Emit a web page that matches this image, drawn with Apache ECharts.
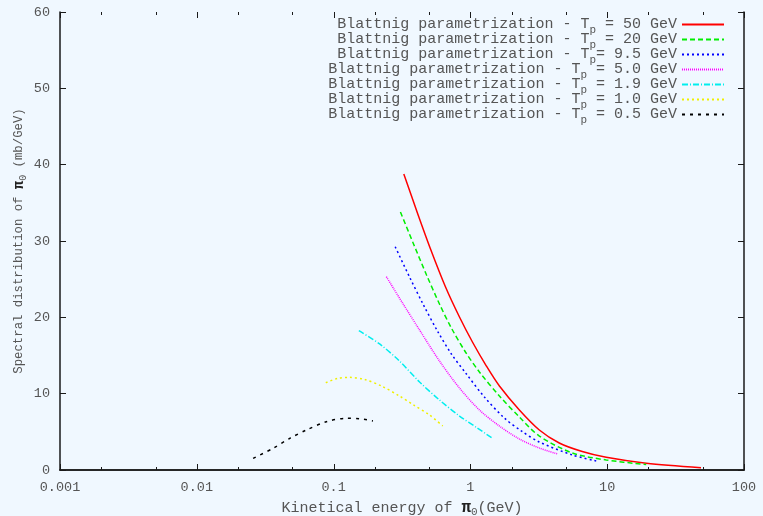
<!DOCTYPE html>
<html><head><meta charset="utf-8">
<script src="https://cdn.jsdelivr.net/npm/echarts@6/dist/echarts.min.js"></script>
<style>html,body{margin:0;padding:0;background:#f0f8ff}#c{width:763px;height:516px}</style>
</head><body><div id="c"></div>
<script>
// ---- data ----
const legendLabels = [
  'Blattnig parametrization - T{sub|p} = 50 GeV',
  'Blattnig parametrization - T{sub|p} = 20 GeV',
  'Blattnig parametrization - T{sub|p}= 9.5 GeV',
  'Blattnig parametrization - T{sub|p} = 5.0 GeV',
  'Blattnig parametrization - T{sub|p} = 1.9 GeV',
  'Blattnig parametrization - T{sub|p} = 1.0 GeV',
  'Blattnig parametrization - T{sub|p} = 0.5 GeV'
];
const energy50 = [0.326,0.410,0.511,0.658,0.832,1.035,1.309,1.63,2.28,3.19,4.46,6.57,9.84,19.3,48.5];
const dist50   = [38.78,33.67,28.95,23.97,20.04,16.77,13.62,11.0,7.86,5.24,3.54,2.42,1.66,0.88,0.30];
const energy20 = [0.308,0.384,0.478,0.594,0.726,0.920,1.164,1.63,2.28,3.19,5.56,9.84,19.3];
const dist20   = [33.80,29.61,25.55,21.75,18.60,15.46,12.84,9.69,6.94,4.45,2.23,1.31,0.72];
const energy95 = [0.282,0.359,0.454,0.574,0.726,0.935,1.265,1.77,2.36,3.19,5.56,8.31];
const dist95   = [29.25,25.28,21.62,18.21,15.20,12.58,9.56,6.81,5.11,3.67,1.97,1.18];
const energy50b = [0.243,0.319,0.425,0.594,0.832,1.164,1.63,2.28,3.19,4.34];
const dist50b   = [25.32,21.88,18.34,14.28,10.74,7.86,5.76,4.06,2.88,2.10];
const energy19 = [0.153,0.217,0.303,0.425,0.594,0.832,1.125,1.44];
const dist19   = [18.25,16.51,14.28,11.53,9.17,7.07,5.50,4.19];
const energy10 = [0.0876,0.107,0.131,0.168,0.224,0.303,0.384,0.502,0.628];
const dist10   = [11.44,11.99,12.14,11.86,11.0,9.69,8.52,7.21,5.76];
const energy05 = [0.0258,0.0361,0.0478,0.0633,0.0885,0.124,0.155,0.194];
const dist05   = [1.53,2.84,4.15,5.24,6.33,6.77,6.72,6.42];
const xTickLabels = [0.001,0.01,0.1,1,10,100];
const xMinorTicks = [0.002,0.005,0.02,0.05,0.2,0.5,2,5,20,50];
const yTickLabels = [0,10,20,30,40,50,60];

const curves = [
  [energy50, dist50], [energy20, dist20], [energy95, dist95], [energy50b, dist50b],
  [energy19, dist19], [energy10, dist10], [energy05, dist05]
];
const colors = ['#ff0000','#00ee00','#0000ff','#ff00ff','#00eeee','#f0f000','#000000'];
const dashes = ['solid',[5,3],[2,3],[1,1],[6,2,1,2],[2,3],[3,5]];

const FONT = 'Liberation Mono';
const AX = '#1a1a1a';
const TXT = '#555';

const lineSeries = curves.map((c, i) => ({
  name: legendLabels[i],
  type: 'line',
  data: c[0].map((x, j) => [x, c[1][j]]),
  showSymbol: false, symbol: 'none',
  smooth: 0.3,
  lineStyle: { color: colors[i], width: 1.5, type: dashes[i] },
  itemStyle: { color: colors[i] },
  z: 3
}));

// all x ticks (major + minor, mirrored on top) drawn through the axis scale
const xTickMarks = xTickLabels.map(v => [v, 6]).concat(xMinorTicks.map(v => [v, 3]));
const tickSeries = {
  type: 'custom', silent: true, clip: false, z: 10,
  xAxisIndex: 0, yAxisIndex: 0,
  encode: { x: 0 },
  data: xTickMarks,
  renderItem(params, api) {
    const x = api.value(0);
    const len = api.value(1);
    const b = api.coord([x, yTickLabels[0]]);
    const t = api.coord([x, yTickLabels[yTickLabels.length - 1]]);
    const px = Math.round(b[0]) + 0.5;
    return { type: 'group', children: [
      { type: 'line', shape: { x1: px, y1: b[1], x2: px, y2: b[1] - len }, style: { stroke: AX, lineWidth: 1 } },
      { type: 'line', shape: { x1: px, y1: t[1], x2: px, y2: t[1] + len }, style: { stroke: AX, lineWidth: 1 } }
    ]};
  }
};

const axisLineStyle = { show: true, lineStyle: { color: AX, width: 1.5 } };

const chart = echarts.init(document.getElementById('c'));
chart.setOption({
  backgroundColor: '#f0f8ff',
  animation: false,
  grid: { left: 60, right: 19, top: 12, bottom: 46, containLabel: false, outerBoundsMode: 'none' },
  legend: {
    data: legendLabels,
    orient: 'vertical', align: 'right',
    right: 33, top: 8,
    itemWidth: 42, itemHeight: 14, itemGap: -8,
    formatter: n => n,
    itemStyle: { opacity: 0 },
    textStyle: {
      fontFamily: FONT, fontSize: 15, color: TXT, lineHeight: 10,
      rich: { sub: { fontFamily: FONT, fontSize: 11, color: TXT, lineHeight: 10, padding: [12, 0, 0, 0] } }
    },
    selectedMode: false
  },
  xAxis: [
    {
      type: 'log', logBase: 10, min: xTickLabels[0], max: xTickLabels[xTickLabels.length - 1],
      position: 'bottom',
      axisLine: axisLineStyle,
      axisTick: { show: false },
      splitLine: { show: false },
      axisLabel: { fontFamily: FONT, fontSize: 13.5, color: TXT, margin: 10,
        formatter: v => String(v) },
      name: 'Kinetical energy of {pi|π}{sub|0}(GeV)',
      nameLocation: 'middle', nameGap: 33, nameMoveOverlap: false,
      nameTextStyle: { fontFamily: FONT, fontSize: 15, color: TXT, lineHeight: 10,
        rich: { pi: { fontFamily: FONT, fontSize: 16, fontWeight: 'bold', color: '#222', lineHeight: 10 },
                sub: { fontFamily: FONT, fontSize: 11, color: TXT, lineHeight: 10, padding: [9, 0, 0, 0] } } }
    },
    {
      type: 'log', logBase: 10, min: xTickLabels[0], max: xTickLabels[xTickLabels.length - 1],
      position: 'top', axisLabel: { show: false },
      axisLine: axisLineStyle, axisTick: { show: false }, splitLine: { show: false }
    }
  ],
  yAxis: [
    {
      type: 'value', min: yTickLabels[0], max: yTickLabels[yTickLabels.length - 1], interval: 10,
      position: 'left',
      axisLine: axisLineStyle,
      axisTick: { show: true, inside: true, length: 6, lineStyle: { color: AX, width: 1 } },
      splitLine: { show: false },
      axisLabel: { fontFamily: FONT, fontSize: 13.5, color: TXT, margin: 10 },
      name: 'Spectral distribution of {pi|π}{sub|0} (mb/GeV)',
      nameLocation: 'middle', nameGap: 36, nameRotate: 90, nameMoveOverlap: false,
      nameTextStyle: { fontFamily: FONT, fontSize: 12.3, color: TXT, lineHeight: 10,
        rich: { pi: { fontFamily: FONT, fontSize: 14, fontWeight: 'bold', color: '#222', lineHeight: 10 },
                sub: { fontFamily: FONT, fontSize: 10, color: TXT, lineHeight: 10, padding: [9, 0, 0, 0] } } }
    },
    {
      type: 'value', min: yTickLabels[0], max: yTickLabels[yTickLabels.length - 1], interval: 10,
      position: 'right', axisLabel: { show: false },
      axisLine: axisLineStyle,
      axisTick: { show: true, inside: true, length: 6, lineStyle: { color: AX, width: 1 } },
      splitLine: { show: false }
    }
  ],
  series: lineSeries.concat([tickSeries])
});
</script></body></html>
